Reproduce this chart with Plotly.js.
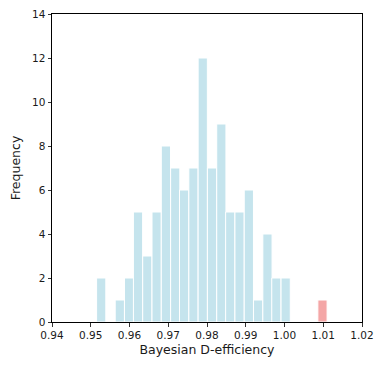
<!DOCTYPE html>
<html>
<head>
<meta charset="utf-8">
<script src="https://cdn.plot.ly/plotly-3.0.1.min.js"></script>
<style>html,body{margin:0;padding:0;background:#fff;}#chart{width:384px;height:370px;}</style>
</head>
<body>
<div id="chart"></div>
<script>
// Bin centres (Bayesian D-efficiency) and counts
const binCenters = [0.9527, 0.9551, 0.9575, 0.9599, 0.9622, 0.9646, 0.9670, 0.9694, 0.9718, 0.9741,
                    0.9765, 0.9789, 0.9813, 0.9837, 0.9860, 0.9884, 0.9908, 0.9932, 0.9956, 0.9979,
                    1.0003];
const counts =     [2, 0, 1, 2, 5, 3, 5, 8, 7, 6,
                    7, 12, 7, 9, 5, 5, 6, 1, 4, 2,
                    2];
const refCenters = [1.0098];
const refCounts = [1];
const binWidth = 0.00238;
const xTicks = [0.94, 0.95, 0.96, 0.97, 0.98, 0.99, 1.00, 1.01, 1.02];
const xTickText = ['0.94', '0.95', '0.96', '0.97', '0.98', '0.99', '1.00', '1.01', '1.02'];
const yTicks = [0, 2, 4, 6, 8, 10, 12, 14];

const traces = [
  {type: 'bar', x: binCenters, y: counts, width: binWidth,
   marker: {color: 'rgba(173,216,230,0.7)', line: {color: '#ffffff', width: 1}},
   hoverinfo: 'skip'},
  {type: 'bar', x: refCenters, y: refCounts, width: binWidth,
   marker: {color: 'rgba(240,128,128,0.7)', line: {color: '#ffffff', width: 1}},
   hoverinfo: 'skip'}
];
const font = {family: 'DejaVu Sans', size: 10.5, color: '#1a1a1a'};
const titleFont = {family: 'DejaVu Sans', size: 12.5, color: '#1a1a1a'};
const layout = {
  width: 384, height: 370,
  margin: {l: 52, r: 22, t: 14, b: 48},
  paper_bgcolor: '#fff', plot_bgcolor: '#fff',
  showlegend: false, barmode: 'overlay', bargap: 0,
  font: font,
  xaxis: {range: [0.94, 1.02], tickvals: xTicks, ticktext: xTickText,
          ticks: 'outside', ticklen: 3.5, tickwidth: 0.8, tickcolor: '#000',
          showgrid: false, zeroline: false, showline: true, mirror: true,
          linecolor: '#000', linewidth: 1, tickfont: font,
          title: {text: 'Bayesian D-efficiency', font: titleFont, standoff: 5}},
  yaxis: {range: [0, 14], tickvals: yTicks,
          ticks: 'outside', ticklen: 3.5, tickwidth: 0.8, tickcolor: '#000',
          showgrid: false, zeroline: false, showline: true, mirror: true,
          linecolor: '#000', linewidth: 1, tickfont: font,
          title: {text: 'Frequency', font: titleFont, standoff: 8}}
};
Plotly.newPlot('chart', traces, layout, {staticPlot: true, displayModeBar: false});
</script>
</body>
</html>
